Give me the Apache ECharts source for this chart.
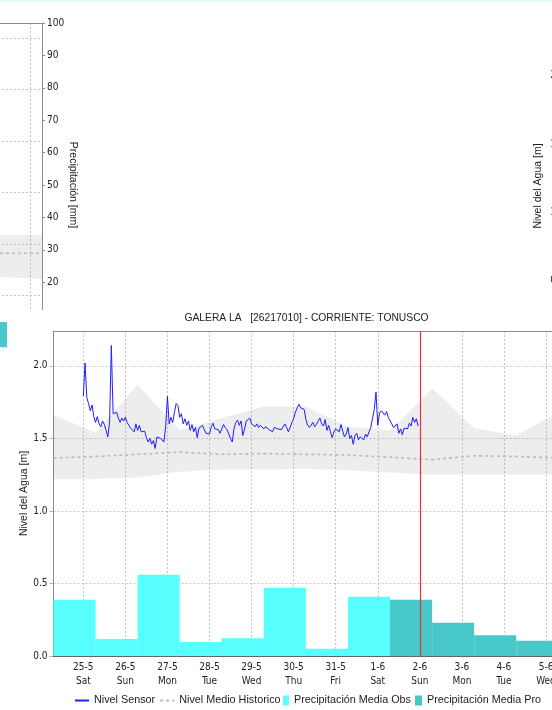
<!DOCTYPE html>
<html lang="es">
<head>
<meta charset="utf-8">
<title>GALERA LA - Nivel del Agua</title>
<script src="https://cdn.jsdelivr.net/npm/echarts@6.0.0/dist/echarts.min.js"></script>
<style>
html, body { margin: 0; padding: 0; width: 552px; height: 710px; overflow: hidden; background: #fff; }
.franja { position: absolute; left: 0; top: 0; width: 552px; height: 2px; background: #e2f9fc; z-index: 5; }
#graficaIzq { position: absolute; left: 0; top: 0; width: 552px; height: 400px; }
#graficaDer { position: absolute; left: 470px; top: 0; width: 400px; height: 400px; }
#graficaPrincipal { position: absolute; left: 7px; top: 310px; width: 599px; height: 400px; background: #fff; z-index: 2; }
</style>
</head>
<body>
<div class="franja"></div>
<div id="graficaIzq"></div>
<div id="graficaDer"></div>
<div id="graficaPrincipal"></div>
<script>
// ---------------- datos gráfica principal (GALERA LA 26217010) ----------------
const diaSemana = ['Sun', 'Mon', 'Tue', 'Wed', 'Thu', 'Fri', 'Sat'];

// nivel del sensor [m], un dato por hora desde el 25-5 00:00
const nivelSensor = [
  1.79, 2.02, 1.78, 1.74, 1.69, 1.73, 1.65, 1.61, 1.65, 1.60, 1.58, 1.62, 1.595, 1.555, 1.51, 1.61, 2.14, 1.67, 1.66, 1.68, 1.64, 1.61, 1.64, 1.62,
  1.645, 1.61, 1.59, 1.57, 1.57, 1.545, 1.60, 1.555, 1.59, 1.545, 1.55, 1.55, 1.505, 1.475, 1.50, 1.46, 1.485, 1.43, 1.51, 1.51, 1.50, 1.49, 1.475, 1.58,
  1.79, 1.60, 1.645, 1.61, 1.68, 1.74, 1.725, 1.645, 1.67, 1.60, 1.635, 1.59, 1.62, 1.555, 1.595, 1.545, 1.575, 1.505, 1.57, 1.58, 1.59, 1.56, 1.535, 1.53,
  1.53, 1.58, 1.605, 1.565, 1.575, 1.56, 1.535, 1.565, 1.595, 1.575, 1.56, 1.53, 1.50, 1.475, 1.57, 1.61, 1.625, 1.59, 1.62, 1.52, 1.565, 1.62, 1.63, 1.64,
  1.60, 1.61, 1.58, 1.60, 1.575, 1.59, 1.60, 1.565, 1.58, 1.57, 1.56, 1.565, 1.545, 1.575, 1.57, 1.565, 1.565, 1.56, 1.555, 1.60, 1.575, 1.545, 1.575, 1.61,
  1.635, 1.68, 1.71, 1.735, 1.71, 1.70, 1.70, 1.63, 1.59, 1.575, 1.58, 1.61, 1.58, 1.595, 1.62, 1.64, 1.60, 1.585, 1.63, 1.555, 1.59, 1.545, 1.505, 1.545,
  1.565, 1.575, 1.545, 1.595, 1.55, 1.51, 1.53, 1.575, 1.50, 1.52, 1.46, 1.52, 1.535, 1.49, 1.51, 1.52, 1.49, 1.53, 1.51, 1.545, 1.575, 1.585, 1.70, 1.82,
  1.59, 1.675, 1.69, 1.68, 1.66, 1.685, 1.645, 1.635, 1.60, 1.575, 1.565, 1.60, 1.535, 1.565, 1.525, 1.57, 1.58, 1.565, 1.605, 1.585, 1.645, 1.61, 1.635, 1.585
];

// banda histórica, valores a las 07:00 de cada día
const fechasHist = ['2019-05-24', '2019-05-25', '2019-05-26', '2019-05-27', '2019-05-28', '2019-05-29', '2019-05-30',
  '2019-05-31', '2019-06-01', '2019-06-02', '2019-06-03', '2019-06-04', '2019-06-05'];
const histMax = [1.66, 1.54, 1.87, 1.555, 1.64, 1.72, 1.72, 1.58, 1.555, 1.845, 1.57, 1.52, 1.68];
const histMin = [1.22, 1.22, 1.23, 1.27, 1.285, 1.285, 1.29, 1.28, 1.265, 1.25, 1.25, 1.25, 1.25];
const histMedio = [1.365, 1.375, 1.39, 1.405, 1.39, 1.395, 1.39, 1.385, 1.37, 1.353, 1.38, 1.375, 1.365];

// precipitación media [mm], acumulado del día anterior 07:00 al día 07:00
const diasObs = ['2019-05-25', '2019-05-26', '2019-05-27', '2019-05-28', '2019-05-29', '2019-05-30', '2019-05-31', '2019-06-01'];
const precipObs = [17.3, 5.2, 25.0, 4.3, 5.5, 21.0, 2.2, 18.2];
const diasPro = ['2019-06-02', '2019-06-03', '2019-06-04', '2019-06-05'];
const precipPro = [17.3, 10.2, 6.4, 4.7];

const fechaActual = '2019-06-02';

// ---------------- gráfica vecina izquierda (recortada) ----------------
const izqFechas = ['2019-06-05', '2019-06-06'];
const izqMax = [1.087, 1.087];
const izqMin = [0.683, 0.658];
const izqMedio = [0.91, 0.91];
const izqPrecipPro = [7.7];

const FUENTE = "'Liberation Sans', Arial, sans-serif";
const FUENTE_EJE = "'Liberation Sans Narrow', 'DejaVu Sans Condensed', 'Liberation Sans', Arial, sans-serif";
const DIA = 24 * 3600 * 1000;
const HORA = 3600 * 1000;
const GRIS_GRILLA = '#c4c4c4';
const GRIS_EJE = '#8c8c8c';

function ts(fecha, hora) {
  const p = fecha.split('-').map(Number);
  return new Date(p[0], p[1] - 1, p[2], hora || 0).getTime();
}

function etiquetaDia(valor) {
  const d = new Date(valor);
  if (d.getHours() !== 0) return '';
  return d.getDate() + '-' + (d.getMonth() + 1) + '\n' + diaSemana[d.getDay()];
}

// barra de precipitación que cubre su periodo de 24 h
function barraDia(params, api) {
  const p0 = api.coord([api.value(0), api.value(2)]);
  const p1 = api.coord([api.value(1), 0]);
  const rect = echarts.graphic.clipRectByRect(
    { x: p0[0], y: p0[1], width: p1[0] - p0[0], height: p1[1] - p0[1] },
    { x: params.coordSys.x, y: params.coordSys.y, width: params.coordSys.width, height: params.coordSys.height }
  );
  return rect && { type: 'rect', shape: rect, style: api.style() };
}

function lineaGrilla() {
  return { show: true, lineStyle: { color: GRIS_GRILLA, type: [2, 2], width: 1 } };
}

// ---------------- gráfica principal ----------------
const inicioEje = ts('2019-05-24', 7);
const finEje = ts('2019-06-05', 7);
const inicioSensor = ts('2019-05-25', 0);

const datosSensor = nivelSensor.map((v, i) => [inicioSensor + i * HORA, v]);
const datosMin = fechasHist.map((f, i) => [ts(f, 7), histMin[i]]);
const datosRango = fechasHist.map((f, i) => [ts(f, 7), +(histMax[i] - histMin[i]).toFixed(3)]);
const datosMedio = fechasHist.map((f, i) => [ts(f, 7), histMedio[i]]);
const datosObs = diasObs.map((f, i) => [ts(f, 7) - DIA, ts(f, 7), precipObs[i]]);
const datosPro = diasPro.map((f, i) => [ts(f, 7) - DIA, ts(f, 7), precipPro[i]]);

const textoLeyenda = { fontFamily: FUENTE, fontSize: 10.8, color: '#222' };
const sinSimbolo = { opacity: 0 };

const opcionPrincipal = {
  animation: false,
  backgroundColor: '#ffffff',
  title: {
    text: 'GALERA LA   [26217010] - CORRIENTE: TONUSCO',
    left: 'center', top: 3, padding: 0,
    textStyle: { fontFamily: FUENTE, fontSize: 10.3, fontWeight: 'normal', color: '#222' }
  },
  legend: [
    {
      data: [
        { name: 'Nivel Sensor', itemStyle: sinSimbolo },
        { name: 'Nivel Medio Historico', itemStyle: sinSimbolo }
      ],
      left: 67, top: 385, padding: 0, itemWidth: 14, itemHeight: 10, itemGap: 4,
      selectedMode: false, textStyle: textoLeyenda
    },
    {
      data: [{ name: 'Precipitación Media Obs', icon: 'rect' }],
      left: 276, top: 385, padding: 0, itemWidth: 6, itemHeight: 10,
      selectedMode: false, textStyle: textoLeyenda
    },
    {
      data: [{ name: 'Precipitación Media Pro', icon: 'rect' }],
      left: 408, top: 385, padding: 0, itemWidth: 7, itemHeight: 10,
      selectedMode: false, textStyle: textoLeyenda
    }
  ],
  grid: { left: 46.5, right: 47.7, top: 21, bottom: 54, outerBoundsMode: 'none' },
  xAxis: [
    {
      type: 'time', min: inicioEje, max: finEje, minInterval: DIA, maxInterval: DIA,
      axisLine: { show: false, onZero: false },
      axisTick: { show: false },
      axisLabel: {
        formatter: etiquetaDia, showMinLabel: false, showMaxLabel: false, hideOverlap: false,
        fontFamily: FUENTE_EJE, fontSize: 10, lineHeight: 14, color: '#222', margin: 4
      },
      splitLine: lineaGrilla()
    },
    {
      type: 'time', min: inicioEje, max: finEje, position: 'top',
      axisLine: { show: true, onZero: false, lineStyle: { color: GRIS_EJE } },
      axisTick: { show: false }, axisLabel: { show: false }, splitLine: { show: false }
    },
    {
      type: 'time', min: inicioEje, max: finEje, position: 'bottom', z: 10,
      axisLine: { show: true, onZero: false, lineStyle: { color: '#555', type: [1, 1] } },
      axisTick: { show: false }, axisLabel: { show: false }, splitLine: { show: false }
    }
  ],
  yAxis: [
    {
      type: 'value', min: 0, max: 2.24, interval: 0.5,
      name: 'Nivel del Agua [m]', nameLocation: 'middle', nameGap: 24, nameMoveOverlap: false,
      nameTextStyle: { fontFamily: FUENTE, fontSize: 10.5, color: '#222' },
      axisLine: { show: true, onZero: false, lineStyle: { color: GRIS_EJE } },
      axisTick: { show: true, length: 4, lineStyle: { color: '#b0b0b0' } },
      axisLabel: {
        formatter: v => v.toFixed(1), showMaxLabel: false,
        fontFamily: FUENTE_EJE, fontSize: 10, color: '#222', margin: 6
      },
      splitLine: lineaGrilla()
    },
    {
      type: 'value', position: 'right', min: 0, max: 100, interval: 10,
      name: 'Precipitación [mm]', nameLocation: 'middle', nameGap: 26, nameRotate: -90, nameMoveOverlap: false,
      nameTextStyle: { fontFamily: FUENTE, fontSize: 10.5, color: '#222' },
      axisLine: { show: true, onZero: false, lineStyle: { color: GRIS_EJE } },
      axisTick: { show: true, length: 3, lineStyle: { color: GRIS_EJE } },
      axisLabel: { fontFamily: FUENTE_EJE, fontSize: 10, color: '#222', margin: 5 },
      splitLine: { show: false }
    }
  ],
  series: [
    {
      name: 'Rango Min', type: 'line', stack: 'hist', data: datosMin, symbol: 'none', silent: true,
      lineStyle: { opacity: 0 }, z: 1
    },
    {
      name: 'Rango Historico', type: 'line', stack: 'hist', data: datosRango, symbol: 'none', silent: true,
      lineStyle: { opacity: 0 }, areaStyle: { color: 'rgba(0,0,0,0.07)', opacity: 1 }, z: 1
    },
    {
      name: 'Nivel Medio Historico', type: 'line', data: datosMedio, symbol: 'none', silent: true,
      itemStyle: { color: '#b8b8b8' },
      lineStyle: { color: '#b8b8b8', width: 1.6, type: [3, 3] }, z: 2
    },
    {
      name: 'Precipitación Media Obs', type: 'custom', xAxisIndex: 0, yAxisIndex: 1,
      renderItem: barraDia, encode: { x: [0, 1], y: 2 }, data: datosObs,
      itemStyle: { color: '#57ffff' }, silent: true, z: 3
    },
    {
      name: 'Precipitación Media Pro', type: 'custom', xAxisIndex: 0, yAxisIndex: 1,
      renderItem: barraDia, encode: { x: [0, 1], y: 2 }, data: datosPro,
      itemStyle: { color: '#48c8c8' }, silent: true, z: 3
    },
    {
      name: 'Nivel Sensor', type: 'line', data: datosSensor, symbol: 'none', silent: true,
      itemStyle: { color: '#1e1eff' },
      lineStyle: { color: '#1e1eff', width: 1 }, z: 4,
      markLine: {
        silent: true, symbol: ['none', 'none'], label: { show: false },
        lineStyle: { color: '#e8303a', width: 1.2, type: 'solid' },
        data: [{ xAxis: ts(fechaActual, 0) }]
      }
    }
  ]
};

// ---------------- gráfica vecina izquierda (solo se ve su borde derecho) ----------------
const izqInicio = ts('2019-05-27', 7);
const izqFin = ts('2019-06-06', 7);

const opcionIzq = {
  animation: false,
  backgroundColor: 'transparent',
  grid: { left: -378, right: 510, top: 23, bottom: 53, outerBoundsMode: 'none' },
  xAxis: [
    {
      type: 'time', min: izqInicio, max: izqFin, minInterval: DIA, maxInterval: DIA,
      axisLine: { show: false, onZero: false }, axisTick: { show: false }, axisLabel: { show: false },
      splitLine: lineaGrilla()
    },
    {
      type: 'time', min: izqInicio, max: izqFin, position: 'top',
      axisLine: { show: true, onZero: false, lineStyle: { color: GRIS_EJE } },
      axisTick: { show: false }, axisLabel: { show: false }, splitLine: { show: false }
    }
  ],
  yAxis: [
    {
      type: 'value', min: 0, max: 3.146, interval: 0.5,
      axisLine: { show: false }, axisTick: { show: false }, axisLabel: { show: false },
      splitLine: lineaGrilla()
    },
    {
      type: 'value', position: 'right', min: 0, max: 100, interval: 10,
      name: 'Precipitación [mm]', nameLocation: 'middle', nameGap: 25, nameRotate: -90, nameMoveOverlap: false,
      nameTextStyle: { fontFamily: FUENTE, fontSize: 10.5, color: '#222' },
      axisLine: { show: true, onZero: false, lineStyle: { color: GRIS_EJE } },
      axisTick: { show: true, length: 3, lineStyle: { color: GRIS_EJE } },
      // las etiquetas bajo 20 quedan tapadas por la gráfica principal
      axisLabel: { formatter: v => (v < 20 ? '' : String(v)), fontFamily: FUENTE_EJE, fontSize: 10, color: '#222', margin: 5 },
      splitLine: { show: false }
    }
  ],
  series: [
    {
      type: 'line', stack: 'hist', symbol: 'none', silent: true, lineStyle: { opacity: 0 },
      data: izqFechas.map((f, i) => [ts(f, 7), izqMin[i]])
    },
    {
      type: 'line', stack: 'hist', symbol: 'none', silent: true, lineStyle: { opacity: 0 },
      areaStyle: { color: 'rgba(0,0,0,0.07)', opacity: 1 },
      data: izqFechas.map((f, i) => [ts(f, 7), +(izqMax[i] - izqMin[i]).toFixed(3)])
    },
    {
      type: 'line', symbol: 'none', silent: true,
      lineStyle: { color: '#b8b8b8', width: 1.6, type: [3, 3] },
      data: izqFechas.map((f, i) => [ts(f, 7), izqMedio[i]])
    },
    {
      type: 'custom', yAxisIndex: 1, renderItem: barraDia, encode: { x: [0, 1], y: 2 }, silent: true,
      itemStyle: { color: '#48c8c8' },
      data: izqPrecipPro.map(v => [izqFin - DIA, izqFin, v])
    }
  ]
};

// ---------------- gráfica vecina derecha (solo se ve el nombre del eje) ----------------
const opcionDer = {
  animation: false,
  backgroundColor: 'transparent',
  grid: { left: 100.5, right: 20, top: 23, bottom: 51, outerBoundsMode: 'none' },
  xAxis: { type: 'value', min: 0, max: 1, show: false },
  yAxis: {
    type: 'value', min: 0, max: 2.387, interval: 0.5,
    name: 'Nivel del Agua [m]', nameLocation: 'middle', nameGap: 26.5, nameMoveOverlap: false,
    nameTextStyle: { fontFamily: FUENTE, fontSize: 10.5, color: '#222' },
    axisLine: { show: true, onZero: false, lineStyle: { color: GRIS_EJE } },
    axisTick: { show: true, length: 4, lineStyle: { color: '#b0b0b0' } },
    axisLabel: {
      formatter: v => v.toFixed(1), showMaxLabel: false,
      fontFamily: FUENTE_EJE, fontSize: 10, color: '#222', margin: 6
    },
    splitLine: lineaGrilla()
  },
  series: []
};

echarts.init(document.getElementById('graficaIzq')).setOption(opcionIzq);
echarts.init(document.getElementById('graficaDer')).setOption(opcionDer);
echarts.init(document.getElementById('graficaPrincipal')).setOption(opcionPrincipal);
</script>
</body>
</html>
